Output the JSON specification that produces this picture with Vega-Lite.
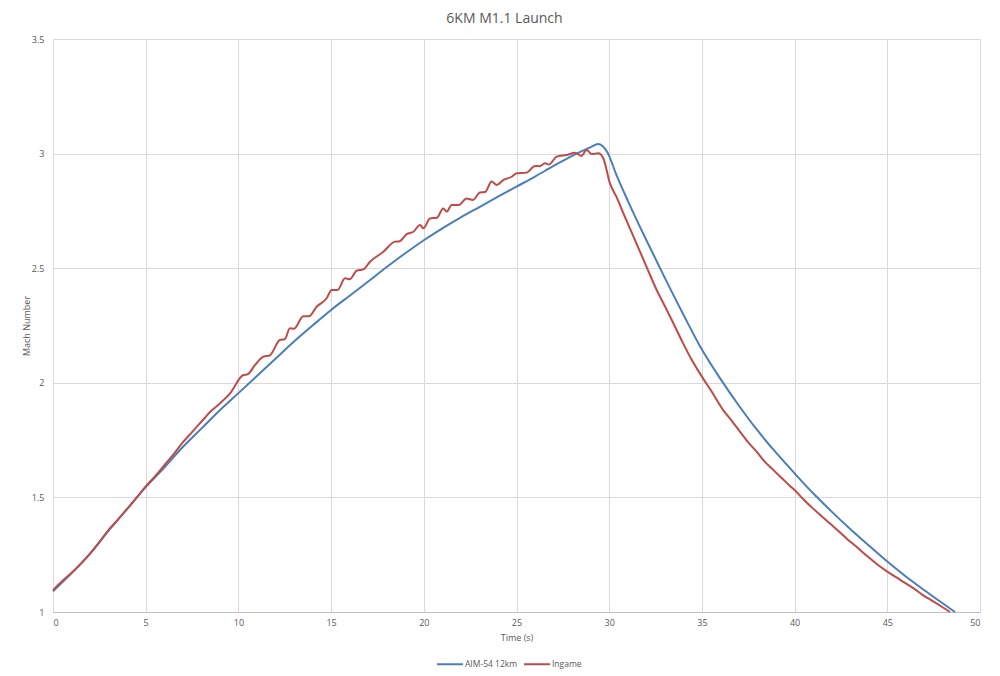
{
  "$schema": "https://vega.github.io/schema/vega-lite/v6.json",
  "width": 927,
  "height": 573,
  "autosize": {"type": "none"},
  "padding": {"left": 53, "top": 39, "right": 20, "bottom": 64},
  "background": "white",
  "title": {"text": "6KM M1.1 Launch", "fontSize": 14, "font": "Open Sans", "fontWeight": "normal", "color": "#595959", "offset": 9, "anchor": "middle", "dx": -12},
  "datasets": {
    "blue": [
      {"t": 0, "m": 1.09}, {"t": 1, "m": 1.17}, {"t": 2, "m": 1.255}, {"t": 3, "m": 1.355}, {"t": 4, "m": 1.45},
      {"t": 5, "m": 1.545}, {"t": 6, "m": 1.63}, {"t": 7, "m": 1.72}, {"t": 8, "m": 1.8}, {"t": 9, "m": 1.88},
      {"t": 10, "m": 1.955}, {"t": 11, "m": 2.03}, {"t": 12, "m": 2.105}, {"t": 13, "m": 2.18}, {"t": 14, "m": 2.25},
      {"t": 15, "m": 2.318}, {"t": 16, "m": 2.38}, {"t": 17, "m": 2.442}, {"t": 18, "m": 2.505}, {"t": 19, "m": 2.565},
      {"t": 20, "m": 2.622}, {"t": 21, "m": 2.674}, {"t": 22, "m": 2.722}, {"t": 23, "m": 2.767}, {"t": 24, "m": 2.812},
      {"t": 25, "m": 2.856}, {"t": 26, "m": 2.9}, {"t": 27, "m": 2.946}, {"t": 28, "m": 2.99}, {"t": 29, "m": 3.028},
      {"t": 29.4, "m": 3.042}, {"t": 29.9, "m": 3.006}, {"t": 30.4, "m": 2.905}, {"t": 31, "m": 2.795}, {"t": 32, "m": 2.623},
      {"t": 33, "m": 2.458}, {"t": 34, "m": 2.298}, {"t": 35, "m": 2.145}, {"t": 36, "m": 2.017}, {"t": 37, "m": 1.9},
      {"t": 38, "m": 1.792}, {"t": 39, "m": 1.695}, {"t": 40, "m": 1.605}, {"t": 41, "m": 1.518}, {"t": 42, "m": 1.438},
      {"t": 43, "m": 1.362}, {"t": 44, "m": 1.29}, {"t": 45, "m": 1.22}, {"t": 46, "m": 1.155}, {"t": 47, "m": 1.095},
      {"t": 48, "m": 1.037}, {"t": 48.65, "m": 1.0}
    ],
    "red": [
      {"t": 0, "m": 1.095}, {"t": 0.5, "m": 1.135}, {"t": 1, "m": 1.17}, {"t": 1.5, "m": 1.21}, {"t": 2, "m": 1.255},
      {"t": 2.5, "m": 1.305}, {"t": 3, "m": 1.358}, {"t": 3.5, "m": 1.403}, {"t": 4, "m": 1.45}, {"t": 4.5, "m": 1.498},
      {"t": 5, "m": 1.548}, {"t": 5.5, "m": 1.592}, {"t": 6, "m": 1.64}, {"t": 6.5, "m": 1.688}, {"t": 7, "m": 1.74},
      {"t": 7.5, "m": 1.785}, {"t": 8, "m": 1.83}, {"t": 8.5, "m": 1.875}, {"t": 9, "m": 1.91}, {"t": 9.55, "m": 1.954},
      {"t": 10.27, "m": 2.034}, {"t": 10.5, "m": 2.037}, {"t": 10.9, "m": 2.078}, {"t": 11.35, "m": 2.114}, {"t": 11.7, "m": 2.12},
      {"t": 12.24, "m": 2.187}, {"t": 12.5, "m": 2.19}, {"t": 12.78, "m": 2.238}, {"t": 13.0, "m": 2.236}, {"t": 13.5, "m": 2.29},
      {"t": 13.8, "m": 2.29}, {"t": 14.22, "m": 2.332}, {"t": 14.76, "m": 2.369}, {"t": 15.03, "m": 2.405}, {"t": 15.35, "m": 2.405},
      {"t": 15.75, "m": 2.456}, {"t": 16.0, "m": 2.452}, {"t": 16.38, "m": 2.489}, {"t": 16.74, "m": 2.495}, {"t": 17.1, "m": 2.528},
      {"t": 17.82, "m": 2.572}, {"t": 18.45, "m": 2.616}, {"t": 18.7, "m": 2.618}, {"t": 19.08, "m": 2.649}, {"t": 19.44, "m": 2.659},
      {"t": 19.8, "m": 2.689}, {"t": 19.98, "m": 2.674}, {"t": 20.33, "m": 2.717}, {"t": 20.7, "m": 2.72}, {"t": 21.05, "m": 2.76},
      {"t": 21.24, "m": 2.747}, {"t": 21.5, "m": 2.776}, {"t": 21.9, "m": 2.776}, {"t": 22.3, "m": 2.804}, {"t": 22.65, "m": 2.798},
      {"t": 23.03, "m": 2.83}, {"t": 23.3, "m": 2.832}, {"t": 23.66, "m": 2.878}, {"t": 23.93, "m": 2.863}, {"t": 24.3, "m": 2.885},
      {"t": 24.74, "m": 2.899}, {"t": 25.0, "m": 2.914}, {"t": 25.54, "m": 2.917}, {"t": 26.0, "m": 2.946}, {"t": 26.25, "m": 2.945},
      {"t": 26.54, "m": 2.958}, {"t": 26.75, "m": 2.952}, {"t": 27.17, "m": 2.987}, {"t": 27.7, "m": 2.994}, {"t": 28.16, "m": 3.004},
      {"t": 28.5, "m": 2.99}, {"t": 28.78, "m": 3.016}, {"t": 29.05, "m": 2.998}, {"t": 29.41, "m": 3.001}, {"t": 29.68, "m": 2.98},
      {"t": 30.04, "m": 2.87}, {"t": 30.4, "m": 2.81}, {"t": 30.76, "m": 2.74}, {"t": 31.3, "m": 2.64}, {"t": 32.02, "m": 2.505},
      {"t": 32.56, "m": 2.405}, {"t": 33.0, "m": 2.335}, {"t": 33.46, "m": 2.26}, {"t": 34.0, "m": 2.17}, {"t": 34.36, "m": 2.114},
      {"t": 35.0, "m": 2.027}, {"t": 35.5, "m": 1.965}, {"t": 36.16, "m": 1.88}, {"t": 36.6, "m": 1.835}, {"t": 37.05, "m": 1.787},
      {"t": 37.5, "m": 1.74}, {"t": 37.96, "m": 1.699}, {"t": 38.4, "m": 1.655}, {"t": 38.85, "m": 1.62}, {"t": 39.3, "m": 1.585},
      {"t": 39.75, "m": 1.55}, {"t": 40.0, "m": 1.532}, {"t": 40.5, "m": 1.49}, {"t": 41.0, "m": 1.451}, {"t": 41.5, "m": 1.415},
      {"t": 42.0, "m": 1.38}, {"t": 42.8, "m": 1.321}, {"t": 43.4, "m": 1.28}, {"t": 43.9, "m": 1.245}, {"t": 44.5, "m": 1.205},
      {"t": 45.0, "m": 1.176}, {"t": 45.7, "m": 1.14}, {"t": 46.4, "m": 1.104}, {"t": 46.9, "m": 1.075}, {"t": 47.4, "m": 1.05},
      {"t": 47.9, "m": 1.025}, {"t": 48.38, "m": 1.0}
    ]
  },
  "layer": [
    {
      "data": {"name": "blue"},
      "transform": [{"calculate": "'AIM-54 12km'", "as": "series"}],
      "mark": {"type": "line", "interpolate": "monotone", "strokeWidth": 2},
      "encoding": {
        "x": {"field": "t", "type": "quantitative"},
        "y": {"field": "m", "type": "quantitative"},
        "color": {"field": "series", "type": "nominal"}
      }
    },
    {
      "data": {"name": "red"},
      "transform": [{"calculate": "'Ingame'", "as": "series"}],
      "mark": {"type": "line", "interpolate": "monotone", "strokeWidth": 2},
      "encoding": {
        "x": {"field": "t", "type": "quantitative"},
        "y": {"field": "m", "type": "quantitative"},
        "color": {"field": "series", "type": "nominal"}
      }
    }
  ],
  "resolve": {"scale": {"color": "shared"}},
  "encoding": {
    "x": {"field": "t", "type": "quantitative", "scale": {"domain": [0, 50], "nice": false},
      "axis": {"title": "Time (s)", "values": [0, 5, 10, 15, 20, 25, 30, 35, 40, 45, 50], "labelPadding": 6, "titlePadding": 6, "domainColor": "#bfbfbf"}},
    "y": {"field": "m", "type": "quantitative", "scale": {"domain": [1, 3.5], "nice": false, "zero": false},
      "axis": {"title": "Mach Number", "values": [1, 1.5, 2, 2.5, 3, 3.5], "format": ".1~f", "labelPadding": 9, "titlePadding": 0, "domain": false}},
    "color": {"field": "series", "type": "nominal",
      "scale": {"domain": ["AIM-54 12km", "Ingame"], "range": ["#4a7ebb", "#be4b48"]},
      "legend": {"title": null, "orient": "none", "legendX": 383, "legendY": 611, "direction": "horizontal",
        "symbolType": "stroke", "symbolSize": 676, "symbolStrokeWidth": 2, "labelFontSize": 8.5, "labelColor": "#595959",
        "labelFont": "Open Sans", "columnPadding": 2, "labelOffset": 1}}
  },
  "config": {
    "view": {"stroke": null},
    "axis": {"labelFont": "Open Sans", "titleFont": "Open Sans", "labelFontSize": 9, "titleFontSize": 9,
      "titleFontWeight": "normal", "labelColor": "#595959", "titleColor": "#595959",
      "gridColor": "#d9d9d9", "gridWidth": 1, "ticks": false, "domainColor": "#d9d9d9"}
  }
}
